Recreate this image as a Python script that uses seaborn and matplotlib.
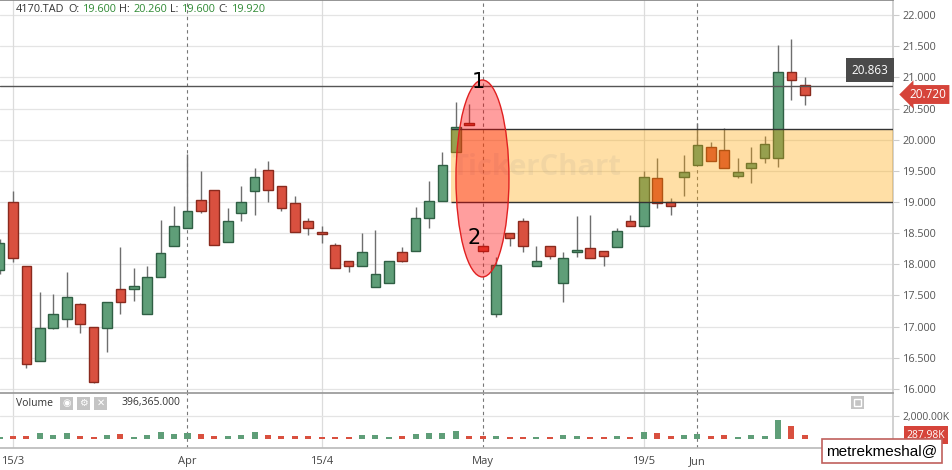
import numpy as np
import pandas as pd
import matplotlib.pyplot as plt
import seaborn as sns
from matplotlib.patches import Rectangle, Ellipse

# daily candles of 4170.TAD (index 0 = left edge)
opens = [17.91, 19.00, 17.98, 16.45, 16.98, 17.13, 17.37, 16.99, 16.97, 17.60,
         17.60, 17.21, 17.79, 18.29, 18.58, 19.03, 19.19, 18.35, 18.82, 19.17,
         19.51, 19.25, 18.98, 18.69, 18.52, 18.31, 18.06, 17.97, 17.63, 17.70,
         18.19, 18.22, 18.75, 19.01, 19.81, 20.25, 18.30, 17.21, 18.50, 18.69,
         17.98, 18.29, 17.70, 18.20, 18.26, 18.22, 18.27, 18.69, 18.61, 19.38,
         19.00, 19.40, 19.60, 19.89, 19.83, 19.41, 19.55, 19.70, 19.70, 21.09,
         20.88]
highs = [18.40, 19.17, 17.98, 17.56, 17.53, 17.87, 17.38, 17.00, 17.39, 18.28,
         17.94, 17.98, 18.71, 18.94, 19.77, 19.49, 19.19, 18.91, 19.25, 19.55,
         19.65, 19.25, 19.09, 18.74, 18.62, 18.34, 18.06, 18.50, 18.55, 18.06,
         18.28, 18.92, 19.33, 19.81, 20.61, 20.57, 18.32, 18.11, 18.50, 18.75,
         18.29, 18.29, 18.20, 18.78, 18.79, 18.22, 18.59, 18.79, 19.50, 19.70,
         19.06, 19.76, 20.26, 19.96, 20.19, 19.70, 19.89, 20.06, 21.52, 21.61,
         21.00]
lows = [17.85, 18.04, 16.33, 16.45, 16.96, 16.99, 16.89, 16.10, 16.60, 17.20,
        17.41, 17.21, 17.79, 18.29, 18.58, 18.83, 18.31, 18.35, 18.70, 18.79,
        19.00, 18.86, 18.52, 18.47, 18.34, 17.94, 17.87, 17.97, 17.63, 17.70,
        18.04, 18.22, 18.59, 19.01, 19.81, 20.23, 18.20, 17.16, 18.29, 18.20,
        17.98, 18.08, 17.40, 18.11, 18.10, 17.98, 18.27, 18.61, 18.61, 18.91,
        18.79, 19.10, 19.60, 19.65, 19.54, 19.38, 19.30, 19.62, 19.56, 20.64,
        20.56]
closes = [18.34, 18.10, 16.40, 16.97, 17.20, 17.47, 17.04, 16.11, 17.39, 17.39,
          17.65, 17.79, 18.18, 18.61, 18.85, 18.85, 18.31, 18.69, 19.00, 19.40,
          19.19, 18.90, 18.52, 18.58, 18.49, 17.94, 17.97, 18.19, 17.84, 18.06,
          18.06, 18.74, 19.01, 19.59, 20.20, 20.23, 18.21, 17.99, 18.42, 18.29,
          18.06, 18.14, 18.10, 18.22, 18.10, 18.14, 18.53, 18.61, 19.40, 18.98,
          18.93, 19.48, 19.92, 19.65, 19.54, 19.48, 19.62, 19.93, 21.08, 20.95,
          20.72]
# volume in thousands
volumes_k = [150, 200, 200, 450, 300, 450, 220, 170, 300, 400,
             100, 300, 560, 400, 450, 400, 220, 220, 300, 560,
             300, 220, 220, 220, 170, 170, 170, 300, 300, 170,
             220, 400, 450, 450, 650, 220, 220, 220, 170, 170,
             170, 170, 300, 220, 170, 170, 220, 170, 560, 500,
             220, 300, 396, 220, 300, 100, 300, 220, 1630, 1130,
             288]

date_ticks = [1, 14, 24, 36, 48, 52]
date_labels = ['15/3', 'Apr', '15/4', 'May', '19/5', 'Jun']
month_lines = [14, 36, 52]
mid_lines = [1, 24, 48]

price_ticks = [16.0, 16.5, 17.0, 17.5, 18.0, 18.5, 19.0, 19.5, 20.0, 20.5, 21.0, 21.5, 22.0]
ref_level = 20.863
zone_low, zone_high = 19.0, 20.17

GREEN, GREEN_EDGE = '#5f9e78', '#2f5f44'
RED, RED_EDGE = '#d9503f', '#8a2a1e'

sns.set_theme(style='white')
plt.rcParams['font.family'] = ['Open Sans', 'DejaVu Sans']

W, H = 953, 470
fig = plt.figure(figsize=(W / 100, H / 100), dpi=100)


def fx(x):
    return x / W


def fy(y):
    return 1 - y / H


ax = fig.add_axes([0, fy(393), fx(893), 393 / H])
axv = fig.add_axes([0, fy(448), fx(893), 55 / H], sharex=ax)

df = pd.DataFrame({'open': opens, 'high': highs, 'low': lows,
                   'close': closes, 'vol': volumes_k})
df['i'] = np.arange(len(df))
df['dir'] = np.where(df['close'] >= df['open'], 'up', 'down')

xmin, xmax = 0.03, 66.57

# grid
for y in price_ticks:
    ax.axhline(y, color='#e4e4e4', lw=0.9, zorder=0)
for a in (ax, axv):
    for m in mid_lines:
        a.axvline(m, color='#dcdcdc', lw=0.9, zorder=0)
    for m in month_lines:
        a.axvline(m, color='#777777', lw=0.8, ls=(0, (3, 3)), zorder=0.5)
axv.axhline(2000, color='#e4e4e4', lw=0.9, zorder=0)

# candles
body_lo = df[['open', 'close']].min(axis=1)
body_h = (df['open'] - df['close']).abs().clip(lower=0.03)
up = df['dir'] == 'up'
ax.vlines(df['i'], df['low'], df['high'], color='#6e6e6e', lw=1, zorder=2)
ax.bar(df['i'], body_h, bottom=body_lo, width=0.72,
       color=np.where(up, GREEN, RED), edgecolor=np.where(up, GREEN_EDGE, RED_EDGE),
       linewidth=1, zorder=3)

ax.axhline(ref_level, color='#555555', lw=1, zorder=3.5)

# drawn zone and ellipse
ax.add_patch(Rectangle((33.61, zone_low), xmax - 33.61, zone_high - zone_low,
                       facecolor='#ffa500', alpha=0.35, edgecolor='none', zorder=4))
ax.hlines([zone_low, zone_high], 33.61, xmax, color='#333333', lw=1, zorder=4.2)
ax.add_patch(Ellipse((35.98, 19.377), 3.95, 3.16, facecolor=(1, 0, 0, 0.38),
                     edgecolor='#e02020', lw=1, zorder=5))
ax.text(35.65, 20.92, '1', fontsize=15, ha='center', va='center', color='black', zorder=6,
        family=['DejaVu Sans'])
ax.text(35.35, 18.43, '2', fontsize=15, ha='center', va='center', color='black', zorder=6,
        family=['DejaVu Sans'])
ax.text(40.0, 19.55, 'TickerChart', fontsize=21, fontweight='bold', color='#8a8a8a',
        alpha=0.11, ha='center', va='center', zorder=4.5)

ax.set_xlim(xmin, xmax)
ax.set_ylim(15.935, 22.241)
ax.yaxis.tick_right()
ax.set_yticks(price_ticks)
ax.set_yticklabels([f'{p:.3f}' for p in price_ticks])
ax.tick_params(axis='y', colors='#cccccc', labelcolor='#555555', labelsize=7.8,
               length=4, width=0.8, pad=3, right=True)
ax.tick_params(axis='x', bottom=False, labelbottom=False)
for s in ('left', 'bottom'):
    ax.spines[s].set_visible(False)
ax.spines['top'].set_color('#888888')
ax.spines['right'].set_color('#cccccc')

# volume
sns.barplot(x=df['i'], y=df['vol'], hue=df['dir'], palette={'up': GREEN, 'down': RED},
            native_scale=True, dodge=False, width=0.45, saturation=1, linewidth=0,
            legend=False, ax=axv)
axv.set_xlim(xmin, xmax)
axv.set_ylim(-844, 4044)
axv.yaxis.tick_right()
axv.set_yticks([2000])
axv.set_yticklabels(['2,000.00K'])
axv.tick_params(axis='y', colors='#cccccc', labelcolor='#555555', labelsize=7.5,
                length=4, width=0.8, pad=3, right=True)
axv.set_xticks(date_ticks)
axv.set_xticklabels(date_labels)
axv.tick_params(axis='x', colors='#cccccc', labelcolor='#444444', labelsize=8,
                length=4, width=0.8, pad=2)
axv.set_xlabel('')
axv.set_ylabel('')
axv.spines['left'].set_visible(False)
axv.spines['top'].set_color('#999999')
axv.spines['right'].set_color('#cccccc')
axv.spines['bottom'].set_color('#bbbbbb')

# header
hdr = [(16, '4170.TAD', '#333333'), (68, 'O:', '#333333'), (83, '19.600', '#2f8a34'),
       (119, 'H:', '#333333'), (134, '20.260', '#2f8a34'), (170, 'L:', '#333333'),
       (182, '19.600', '#2f8a34'), (218, 'C:', '#333333'), (232, '19.920', '#2f8a34')]
for x, s, c in hdr:
    fig.text(fx(x), fy(10), s, color=c, fontsize=7.8, ha='left', va='center')

# volume header with icons
fig.text(fx(16), fy(403), 'Volume', color='#333333', fontsize=7.5, ha='left', va='center')
for x0, g in zip([60, 77, 94], ['◉', '⚙', '✕']):
    fig.patches.append(Rectangle((fx(x0), fy(410)), 13 / W, 13 / H, transform=fig.transFigure,
                                 facecolor='#c4c4c4', edgecolor='none'))
    fig.text(fx(x0 + 6.5), fy(403), g, color='white', fontsize=7, ha='center', va='center',
             family=['DejaVu Sans'])
fig.text(fx(122), fy(403), '396,365.000', color='#333333', fontsize=7.5, ha='left', va='center')
fig.patches.append(Rectangle((fx(851), fy(409)), 13 / W, 13 / H, transform=fig.transFigure,
                             facecolor='#c4c4c4', edgecolor='none'))
fig.patches.append(Rectangle((fx(854), fy(406)), 7 / W, 7 / H, transform=fig.transFigure,
                             facecolor='none', edgecolor='white', lw=1))

# price tags
fig.text(fx(870), fy(70), '20.863', color='white', fontsize=8.5, ha='center', va='center',
         bbox=dict(boxstyle='square,pad=0.45', fc='#4a4a4a', ec='none'))
fig.text(fx(928), fy(94.5), '20.720', color='white', fontsize=8.5, ha='center', va='center',
         bbox=dict(boxstyle='larrow,pad=0.25', fc='#d6443a', ec='none'))
fig.text(fx(926), fy(435), '287.98K', color='white', fontsize=7.5, ha='center', va='center',
         bbox=dict(boxstyle='square,pad=0.3', fc='#d6443a', ec='none'))

# signature box
fig.text(fx(882), fy(451), 'metrekmeshal@', color='black', fontsize=11, ha='center',
         va='center', family=['Liberation Sans', 'DejaVu Sans'],
         bbox=dict(boxstyle='square,pad=0.3', fc='white', ec='#c0605c', lw=1.2))

fig.savefig('out.png', dpi=100)
